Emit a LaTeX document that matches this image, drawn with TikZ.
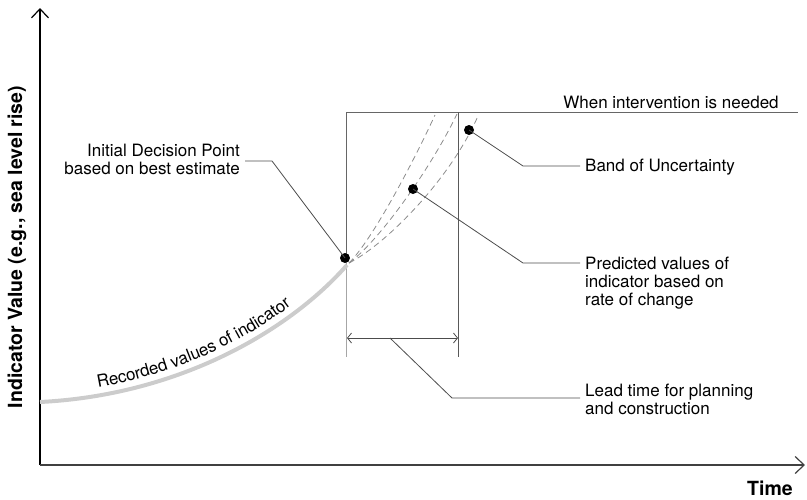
\documentclass[tikz,border=0pt]{standalone}
\usepackage{fontspec}
\setmainfont{TeX Gyre Heros}
\usetikzlibrary{arrows.meta,decorations.text}
\begin{document}
\begin{tikzpicture}[x=1pt,y=-1pt,
		lbl/.style={font=\fontsize{17}{18}\selectfont,inner xsep=5pt,inner ysep=0pt},
		axlbl/.style={font=\fontsize{19.5}{20}\selectfont\bfseries},
		lead/.style={draw=black!70,line width=0.8pt},
		dot/.style={circle,fill=black,inner sep=0pt,minimum size=10pt},
		pred/.style={draw=black!45,line width=0.8pt,dash pattern=on 6pt off 4pt}]
	\useasboundingbox (0,0) rectangle (807,499);
	% axes
	\coordinate (o) at (40,465);
	\coordinate (ytop) at (40,8);
	\coordinate (xend) at (805,465);
	\draw[line width=1.2pt,-{Straight Barb[length=9pt,width=17pt]}] (o) -- (ytop);
	\draw[line width=1.2pt,black!75,-{Straight Barb[length=9pt,width=17pt]}] (o) -- (xend);
	\node[axlbl,rotate=90] (ylbl) at (17,247) {Indicator Value (e.g., sea level rise)};
	\node[axlbl] (xlbl) at (770,488) {Time};
	% decision box
	\coordinate (v1t) at (346,112);
	\coordinate (v1m) at (346,262);
	\coordinate (v1b) at (346,357);
	\coordinate (v2t) at (458,112);
	\coordinate (v2b) at (458,357);
	\coordinate (hend) at (798,112);
	\draw[black!60,line width=0.9pt] (v1m) -- (v1t) -- (hend);
	\draw[black!35,line width=0.9pt] (v1m) -- (v1b);
	\draw[black!65,line width=0.9pt] (v2t) -- (v2b);
	\node[lbl] (need) at (671,102) {When intervention is needed};
	% recorded values
	\coordinate (rec0) at (40,402);
	\coordinate (rec1) at (347,265);
	\draw[black!20,line width=4pt] (rec0) .. controls (180,395) and (290,330) .. (rec1);
	\path[decorate,decoration={text along path,
		text={|\fontsize{17}{17}\selectfont|Recorded values of indicator},
		text align={left indent=60pt},raise=8pt}]
		(rec0) .. controls (180,395) and (290,330) .. (rec1);
	% predicted values
	\coordinate (s) at (349,263);
	\coordinate (t1) at (435,115);
	\coordinate (t2) at (457,114);
	\coordinate (t3) at (478,116);
	\draw[pred] (s) .. controls (372,240) and (412,165) .. (t1);
	\draw[pred] (s) .. controls (378,242) and (430,170) .. (t2);
	\draw[pred] (s) .. controls (385,245) and (450,180) .. (t3);
	% lead time
	\coordinate (la) at (347,338);
	\coordinate (lb) at (458,338);
	\draw[lead,{Straight Barb[length=4pt,width=10pt]}-{Straight Barb[length=4pt,width=10pt]}] (la) -- (lb);
	% points
	\node[dot] (dp) at (345,258) {};
	\node[dot] (pv) at (413,189) {};
	\node[dot] (bu) at (469,130) {};
	% labels
	\node[lbl,anchor=east,align=right] (initlbl) at (245,159) {Initial Decision Point\\based on best estimate};
	\node[lbl,anchor=west,align=left] (bandlbl) at (580,167) {Band of Uncertainty};
	\node[lbl,anchor=west,align=left] (predlbl) at (580,283) {Predicted values of\\indicator based on\\rate of change};
	\node[lbl,anchor=west,align=left] (leadlbl) at (580,399) {Lead time for planning\\and construction};
	% leaders
	\coordinate (ik) at (272,161);
	\coordinate (bk) at (523,166);
	\coordinate (pk) at (523,263);
	\coordinate (lm) at (390,338);
	\coordinate (lk) at (452,398);
	\draw[lead] (dp.center) -- (ik) -- (initlbl.east |- ik);
	\draw[lead] (bu.center) -- (bk) -- (bandlbl.west |- bk);
	\draw[lead] (pv.center) -- (pk) -- (predlbl.west |- pk);
	\draw[lead] (lm) -- (lk) -- (leadlbl.west |- lk);
\end{tikzpicture}
\end{document}
